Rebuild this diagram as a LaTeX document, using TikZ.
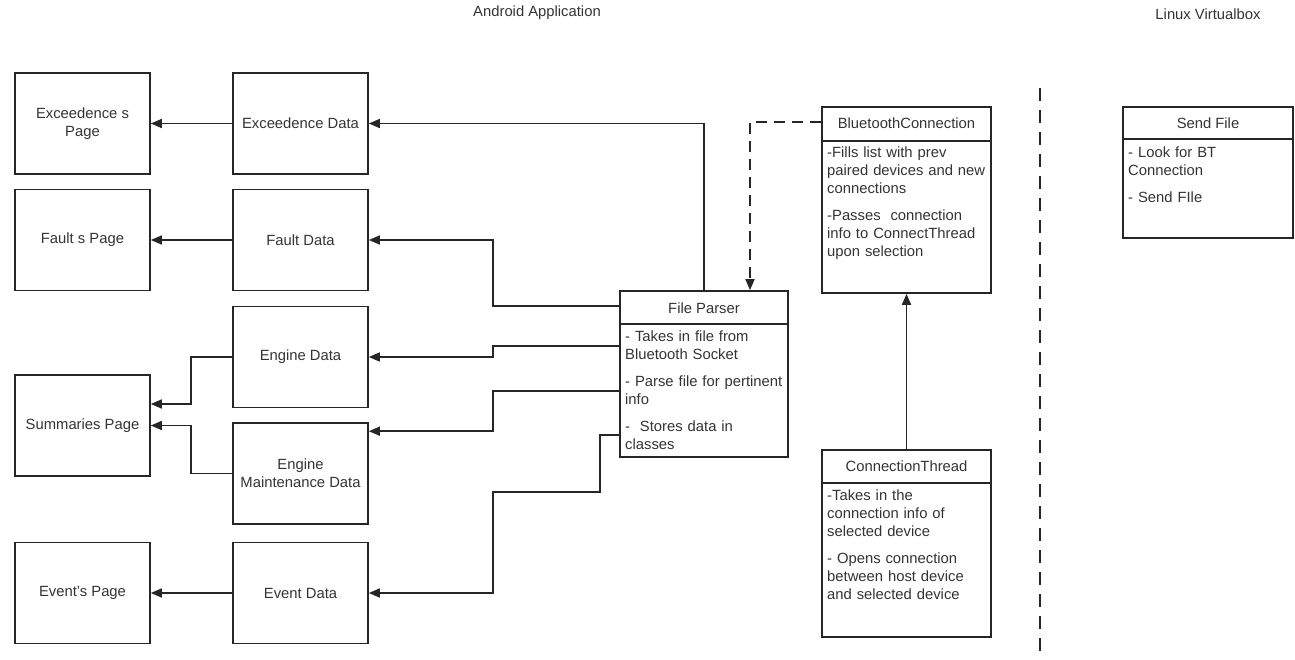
\documentclass[tikz,border=0pt]{standalone}
\usepackage{fontspec}
\setmainfont{Liberation Sans}
\usetikzlibrary{arrows.meta}
\definecolor{ink}{HTML}{262626}
\definecolor{txt}{HTML}{333333}
\tikzset{
  box/.style={draw=ink, line width=1.6pt, rectangle, align=center, text=txt,
    font=\fontsize{14.8}{18}\selectfont, inner sep=0pt},
  pagebox/.style={box, minimum width=135pt, minimum height=101pt},
  classbox/.style={draw=ink, line width=1.6pt, rectangle, inner sep=0pt},
  hdr/.style={text=txt, font=\fontsize{14.8}{18}\selectfont, inner sep=0pt, anchor=base},
  body/.style={text=txt, font=\fontsize{14.8}{18}\selectfont, inner sep=0pt,
    anchor=base west, text width=200pt, align=left},
  conn/.style={draw=ink, line width=1.6pt},
  arr/.style={conn, -{Triangle[length=11pt,width=9pt]}},
  dasharr/.style={arr, dash pattern=on 11pt off 7pt},
  ttl/.style={text=txt, font=\fontsize{14.8}{18}\selectfont, inner sep=0pt},
}
\begin{document}
\begin{tikzpicture}[x=1pt,y=-1pt]
\useasboundingbox (0,0) rectangle (1295,660);

% titles
\node[ttl] (tandroid) at (537,13) {Android Application};
\node[ttl] (tlinux) at (1208,14) {Linux Virtualbox};

% page boxes
\node[pagebox] (exp) at (82.5,123.5) {Exceedence s\\Page};
\node[pagebox] (fap) at (82.5,240) {Fault s Page};
\node[pagebox] (sup) at (82.5,425.5) {Summaries Page};
\node[pagebox] (evp) at (82.5,593) {Event's Page};

% data boxes
\node[pagebox] (exd) at (300.5,123.5) {Exceedence Data};
\node[pagebox] (fad) at (300.5,240) {Fault Data};
\node[pagebox] (end) at (300.5,357) {Engine Data};
\node[pagebox] (emd) at (300.5,473.5) {Engine\\Maintenance Data};
\node[pagebox] (evd) at (300.5,593) {Event Data};

% File Parser
\node[classbox, minimum width=168pt, minimum height=166pt] (fp) at (704,374) {};
\draw[conn] (620,324) -- (788,324);
\node[hdr] (fpt) at (704,313) {File Parser};
\node[body] (fpb) at (625,341) {- Takes in file from\\Bluetooth Socket\\[9pt]- Parse file for pertinent\\info\\[9pt]-\ \ Stores data in\\classes};

% BluetoothConnection
\node[classbox, minimum width=169pt, minimum height=186pt] (bc) at (906.5,200) {};
\draw[conn] (822,141) -- (991,141);
\node[hdr] (bct) at (906.5,129) {BluetoothConnection};
\node[body] (bcb) at (827,158) {-Fills list with prev\\paired devices and new\\connections\\[9pt]-Passes\ \ connection\\info to ConnectThread\\upon selection};

% ConnectionThread
\node[classbox, minimum width=169pt, minimum height=187pt] (ct) at (906.5,543.5) {};
\draw[conn] (822,483) -- (991,483);
\node[hdr] (ctt) at (906.5,471) {ConnectionThread};
\node[body] (ctb) at (827,500) {-Takes in the\\connection info of\\selected device\\[9pt]- Opens connection\\between host device\\and selected device};

% Send File
\node[classbox, minimum width=170pt, minimum height=131pt] (sf) at (1208,172.5) {};
\draw[conn] (1123,139) -- (1293,139);
\node[hdr] (sft) at (1208,129) {Send File};
\node[body] (sfb) at (1128,158) {- Look for BT\\Connection\\[9pt]- Send FIle};

% divider
\coordinate (dtop) at (1040,88);
\coordinate (dbot) at (1040,660);
\draw[conn, dash pattern=on 13pt off 9pt] (dtop) -- (dbot);

% data -> pages
\draw[arr] (exd.west) -- (exp.east);
\draw[arr] (fad.west) -- (fap.east);
\draw[arr] (end.west) -- ++(-41pt,0) |- ([yshift=21.5pt]sup.east);
\draw[arr] (emd.west) -- ++(-41pt,0) |- (sup.east);
\draw[arr] (evd.west) -- (evp.east);

% parser -> data
\draw[arr] (fp.north) |- (exd.east);
\draw[arr] ([yshift=-16pt]fp.north west) -- ++(-126pt,0) |- (fad.east);
\draw[arr] ([yshift=-56pt]fp.north west) -- ++(-126pt,0) |- (end.east);
\draw[arr] ([yshift=-101pt]fp.north west) -- ++(-126pt,0) |- ([yshift=-9pt]emd.north east);
\draw[arr] ([yshift=-145pt]fp.north west) -- ++(-19pt,0) -- ++(0,-57pt) -- ++(-107pt,0) |- (evd.east);

% bluetooth -> parser (dashed)
\draw[dasharr] ([yshift=-16pt]bc.north west) -| ([xshift=46pt]fp.north);

% connection thread -> bluetooth
\draw[arr] (ct.north) -- (bc.south);
\end{tikzpicture}
\end{document}
